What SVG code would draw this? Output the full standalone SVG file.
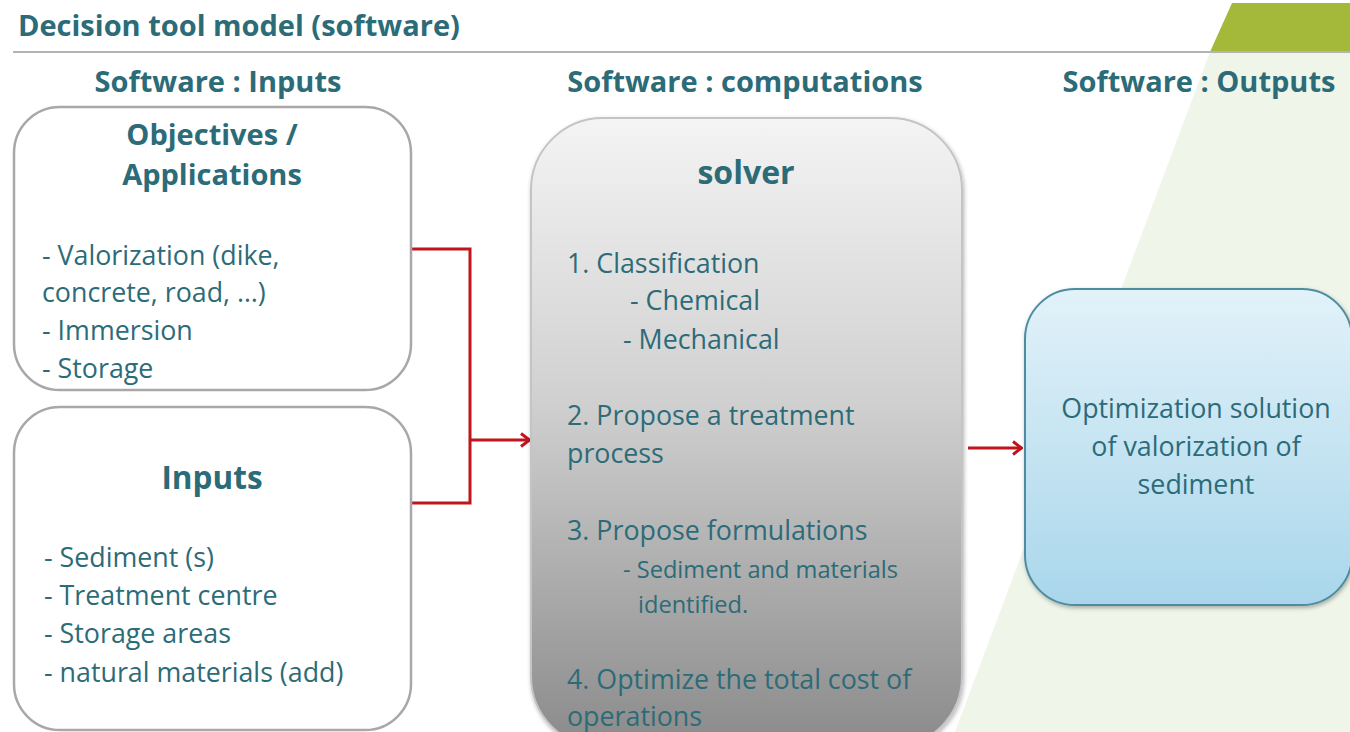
<svg xmlns="http://www.w3.org/2000/svg" width="1350" height="732" viewBox="0 0 1350 732">
  <style>
    text { font-family: "Open Sans", Lato, "Liberation Sans", sans-serif; fill: #2c6b78; }
    .h { font-weight: bold; font-size: 29px; }
    .t { font-size: 26.8px; }
    .s { font-size: 23.6px; }
    .c { text-anchor: middle; }
    .box { fill: #ffffff; stroke: #a8a8a8; stroke-width: 2.5; }
    .wire { fill: none; stroke: #c0151d; stroke-width: 3; }
  </style>
  <defs>
    <linearGradient id="greyFill" x1="0" y1="0" x2="0" y2="1">
      <stop offset="0" stop-color="#f4f4f4"/>
      <stop offset="0.45" stop-color="#d0d0d0"/>
      <stop offset="1" stop-color="#8a8a8a"/>
    </linearGradient>
    <linearGradient id="blueFill" x1="0" y1="0" x2="0" y2="1">
      <stop offset="0" stop-color="#e2f2f9"/>
      <stop offset="1" stop-color="#a9d6eb"/>
    </linearGradient>
    <filter id="shadow" x="-10%" y="-10%" width="120%" height="120%">
      <feDropShadow dx="1" dy="2" stdDeviation="2" flood-color="#000" flood-opacity="0.3"/>
    </filter>
    <!-- open chevron arrowhead -->
    <marker id="arrow" viewBox="0 0 12 16" refX="11" refY="8" markerWidth="12" markerHeight="16" orient="auto" markerUnits="userSpaceOnUse">
      <path d="M2,1.5 L10.5,8 L2,14.5" fill="none" stroke="#c0151d" stroke-width="3" stroke-linejoin="miter"/>
    </marker>
  </defs>

  <!-- background -->
  <rect width="1350" height="732" fill="#ffffff"/>
  <polygon points="1210,52 1350,52 1350,732 955,732" fill="#eff5e9"/>
  <polygon points="1232,3 1350,3 1350,52 1210,52" fill="#a4b93a"/>
  <line x1="13" y1="52" x2="1350" y2="52" stroke="#b4b4b4" stroke-width="2"/>

  <!-- headings -->
  <text x="18" y="36" font-size="29" font-weight="bold" fill="#2d7585">Decision tool model (software)</text>
  <text class="h c" x="218" y="92">Software : Inputs</text>
  <text class="h c" x="745" y="92">Software : computations</text>
  <text class="h c" x="1199" y="92">Software : Outputs</text>

  <!-- connectors -->
  <g id="connectors">
    <polyline class="wire" points="411,249 470,249 470,503 411,503"/>
    <line class="wire" x1="470" y1="440" x2="530" y2="440" marker-end="url(#arrow)"/>
    <line class="wire" x1="968" y1="448" x2="1022" y2="448" marker-end="url(#arrow)"/>
  </g>

  <!-- objectives node -->
  <g id="objectives">
    <rect class="box" x="14" y="107" width="397" height="283" rx="46"/>
    <text class="h c" x="212" y="145">Objectives /</text>
    <text class="h c" x="212" y="185">Applications</text>
    <text class="t" x="42" y="265">- Valorization (dike,</text>
    <text class="t" x="42" y="302">concrete, road, …)</text>
    <text class="t" x="42" y="340">- Immersion</text>
    <text class="t" x="42" y="378">- Storage</text>
  </g>

  <!-- inputs node -->
  <g id="inputs">
    <rect class="box" x="14" y="407" width="397" height="323" rx="46"/>
    <text class="c" x="212" y="489" font-size="31.5" font-weight="bold">Inputs</text>
    <text class="t" x="44" y="567">- Sediment (s)</text>
    <text class="t" x="44" y="605">- Treatment centre</text>
    <text class="t" x="44" y="643">- Storage areas</text>
    <text class="t" x="44" y="682">- natural materials (add)</text>
  </g>

  <!-- solver node -->
  <g id="solver">
    <rect x="531" y="118" width="431" height="630" rx="72" fill="url(#greyFill)" stroke="#c4c4c4" stroke-width="2" filter="url(#shadow)"/>
    <text class="c" x="746" y="184" font-size="32" font-weight="bold">solver</text>
    <text class="t" x="567" y="273">1. Classification</text>
    <text class="t" x="630" y="310">- Chemical</text>
    <text class="t" x="623" y="349">- Mechanical</text>
    <text class="t" x="567" y="425">2. Propose a treatment</text>
    <text class="t" x="567" y="463">process</text>
    <text class="t" x="567" y="540">3. Propose formulations</text>
    <text class="s" x="623" y="578">- Sediment and materials</text>
    <text class="s" x="638" y="613">identified.</text>
    <text class="t" x="567" y="689">4. Optimize the total cost of</text>
    <text class="t" x="567" y="726">operations</text>
  </g>

  <!-- output node -->
  <g id="output">
    <rect x="1025" y="289" width="327" height="316" rx="50" fill="url(#blueFill)" stroke="#4d8ca1" stroke-width="2" filter="url(#shadow)"/>
    <text class="t c" x="1196" y="418" fill="#3d6873">Optimization solution</text>
    <text class="t c" x="1196" y="456" fill="#3d6873">of valorization of</text>
    <text class="t c" x="1196" y="494" fill="#3d6873">sediment</text>
  </g>
</svg>
